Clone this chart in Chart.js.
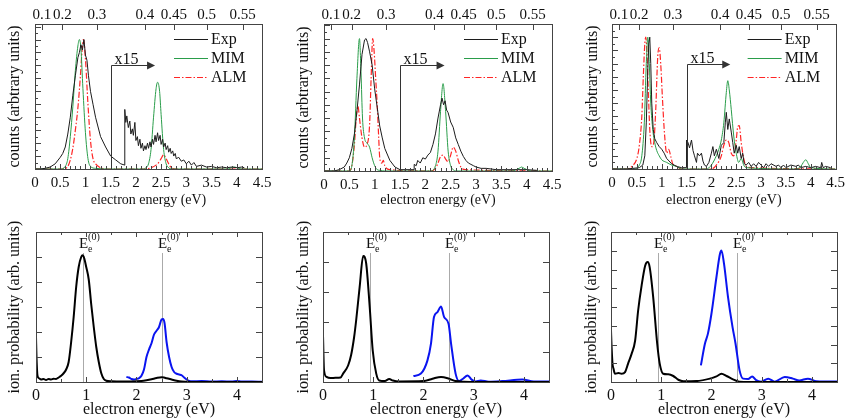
<!DOCTYPE html>
<html>
<head>
<meta charset="utf-8">
<script src="https://cdn.jsdelivr.net/npm/chart.js@4.4.1/dist/chart.umd.min.js"></script>
<style>
  html, body { margin: 0; padding: 0; background: #fff; }
  #fig { position: relative; width: 850px; height: 418px; overflow: hidden; }
  #fig canvas { position: absolute; }
</style>
</head>
<body>
<div id="fig">
  <canvas id="c1" width="290" height="210" style="left:0;top:0"></canvas>
  <canvas id="c2" width="290" height="210" style="left:290px;top:0"></canvas>
  <canvas id="c3" width="270" height="210" style="left:580px;top:0"></canvas>
  <canvas id="c4" width="290" height="208" style="left:0;top:210px"></canvas>
  <canvas id="c5" width="290" height="208" style="left:290px;top:210px"></canvas>
  <canvas id="c6" width="270" height="208" style="left:580px;top:210px"></canvas>
</div>
<script>
// ---- axis ticks / labels ----
const energyTicksTop = [0, 0.5, 1, 1.5, 2, 2.5, 3, 3.5, 4, 4.5];
const energyTicksBottom = [0, 1, 2, 3, 4];
const momentumTicks = [0.1, 0.2, 0.3, 0.4, 0.45, 0.5, 0.55]; // top axis, a.u.
const HALF_HARTREE = 13.6057;                                 // E = k^2/2 (eV)
const refEnergies = [0.93, 2.5];
const refLabels = ["(0)", "(0)'"];
const legendNames = ['Exp', 'MIM', 'ALM'];

// ---- panel 1 (top left) ----
const p1ExpE = [0,0.1,0.2,0.3,0.4,0.5,0.55,0.6,0.65,0.7,0.75,0.8,0.85,0.88,0.91,0.94,0.97,1.0,1.03,1.06,1.1,1.15,1.2,1.3,1.4,1.5,1.6,1.7,1.78,
  1.78,1.8,1.82,1.85,1.88,1.9,1.93,1.95,1.98,2.0,2.03,2.05,2.08,2.1,2.13,2.15,2.18,2.2,2.23,2.25,2.28,2.3,2.33,2.35,2.38,2.4,2.43,2.45,2.48,2.5,2.53,2.55,2.58,2.6,2.63,2.65,2.68,2.7,2.73,2.75,2.78,2.8,2.85,2.9,2.95,3.0,3.05,3.1,3.15,3.2,3.3,3.4,3.5,3.6,3.7,3.8,3.9,4.0,4.1,4.15];
const p1ExpI = [0,0,0.005,0.015,0.04,0.09,0.12,0.17,0.27,0.4,0.57,0.72,0.86,0.9,0.96,0.92,1.0,0.88,0.84,0.72,0.6,0.5,0.4,0.25,0.17,0.1,0.07,0.04,0.03,
  0.46,0.36,0.41,0.32,0.37,0.27,0.31,0.26,0.36,0.22,0.25,0.18,0.23,0.16,0.2,0.14,0.18,0.15,0.2,0.16,0.21,0.17,0.23,0.19,0.26,0.21,0.28,0.22,0.26,0.19,0.23,0.17,0.2,0.15,0.18,0.13,0.16,0.12,0.14,0.1,0.12,0.08,0.09,0.06,0.07,0.04,0.06,0.03,0.05,0.02,0.03,0.015,0.02,0.01,0.015,0.01,0.015,0.01,0.015,0.01];
const p1MimE = [0,0.5,0.6,0.65,0.7,0.75,0.8,0.85,0.88,0.91,0.95,1.0,1.05,1.1,1.2,1.5,2.15,2.2,2.25,2.3,2.35,2.4,2.43,2.47,2.5,2.55,2.6,2.65,2.7,3.8,3.95,4.1,4.5];
const p1MimI = [0,0,0.02,0.08,0.25,0.48,0.76,0.95,1.0,0.93,0.62,0.28,0.08,0.02,0.005,0,0,0.01,0.04,0.15,0.4,0.62,0.67,0.6,0.42,0.15,0.04,0.01,0,0,0.015,0,0];
const p1AlmE = [0,0.55,0.65,0.7,0.75,0.8,0.85,0.9,0.93,0.96,1.0,1.05,1.1,1.15,1.2,1.3,1.4,2.2,2.3,2.4,2.45,2.5,2.55,2.6,2.65,2.7,2.8,4.5];
const p1AlmI = [0,0,0.02,0.07,0.16,0.3,0.47,0.72,0.9,1.0,0.85,0.5,0.22,0.08,0.04,0.01,0,0,0.01,0.03,0.05,0.08,0.11,0.08,0.04,0.01,0,0];

// ---- panel 2 (top middle) ----
const p2ExpE = [0,0.2,0.3,0.4,0.45,0.5,0.55,0.6,0.65,0.7,0.75,0.8,0.83,0.86,0.9,0.95,1.0,1.05,1.1,1.15,1.2,1.3,1.4,1.5,
  1.78,1.78,1.82,1.85,1.9,1.95,2.0,2.05,2.1,2.15,2.2,2.25,2.3,2.33,2.36,2.39,2.42,2.45,2.5,2.55,2.6,2.65,2.7,2.75,2.8,2.85,2.9,2.95,3.0,3.1,3.2,3.4,3.6,3.8,4.0,4.2];
const p2ExpI = [0,0,0.01,0.03,0.06,0.1,0.17,0.28,0.45,0.65,0.88,0.99,1.0,0.97,0.9,0.8,0.62,0.48,0.34,0.25,0.17,0.08,0.03,0.01,
  0.01,0.05,0.04,0.08,0.06,0.1,0.09,0.12,0.14,0.2,0.28,0.4,0.5,0.55,0.5,0.53,0.46,0.44,0.37,0.33,0.25,0.2,0.15,0.11,0.08,0.06,0.05,0.04,0.03,0.02,0.02,0.01,0.01,0.01,0.01,0.005];
const p2MimE = [0,0.5,0.55,0.6,0.65,0.7,0.73,0.76,0.8,0.85,0.9,0.95,1.0,1.05,1.1,1.2,2.1,2.2,2.25,2.3,2.35,2.4,2.45,2.5,2.55,2.6,3.7,3.85,3.9,3.95,4.1,4.5];
const p2MimI = [0,0,0.04,0.25,0.7,1.0,0.75,0.4,0.25,0.21,0.18,0.1,0.04,0.01,0.005,0,0,0.04,0.15,0.45,0.66,0.45,0.15,0.04,0.01,0,0,0.02,0.03,0.02,0,0];
const p2AlmE = [0,0.5,0.55,0.6,0.64,0.67,0.7,0.75,0.8,0.85,0.9,0.93,0.96,0.99,1.02,1.05,1.08,1.1,1.14,1.17,1.2,1.3,2.1,2.2,2.25,2.3,2.35,2.4,2.45,2.5,2.55,2.6,2.65,2.7,2.8,4.5];
const p2AlmI = [0,0,0.04,0.2,0.42,0.49,0.4,0.25,0.18,0.2,0.35,0.7,1.0,0.9,0.7,0.5,0.25,0.1,0.06,0.08,0.04,0.01,0,0.02,0.06,0.11,0.12,0.09,0.07,0.12,0.18,0.15,0.08,0.03,0.01,0];

// ---- panel 3 (top right) ----
const p3ExpE = [0,0.3,0.55,0.62,0.66,0.69,0.72,0.74,0.76,0.78,0.8,0.83,0.86,0.9,0.95,1.0,1.05,1.1,1.2,1.3,1.4,1.5,
  1.5,1.53,1.56,1.6,1.63,1.66,1.7,1.72,1.76,1.8,1.83,1.86,1.9,1.95,2.0,2.03,2.06,2.1,2.15,2.2,2.25,2.28,2.3,2.33,2.36,2.4,2.43,2.46,2.5,2.53,2.56,2.6,2.63,2.66,2.7,2.75,2.8,2.85,2.9,2.95,3.0,3.05,3.1,3.15,3.2,3.3,3.35,3.4,3.45,3.5,3.6,3.7,3.75,3.8,3.9,4.0,4.1,4.2,4.22,4.25,4.3,4.4];
const p3ExpI = [0,0,0.01,0.03,0.1,0.35,0.75,0.95,1.0,0.8,0.5,0.3,0.23,0.2,0.17,0.15,0.12,0.08,0.04,0.02,0.01,0.01,
  0.22,0.2,0.16,0.22,0.14,0.1,0.05,0.12,0.1,0.12,0.06,0.03,0.02,0.05,0.12,0.17,0.1,0.15,0.08,0.18,0.2,0.35,0.43,0.3,0.38,0.28,0.2,0.12,0.18,0.12,0.17,0.08,0.12,0.04,0.03,0.05,0.02,0.04,0.02,0.05,0.03,0.01,0.04,0.02,0.04,0.02,0.03,0.01,0.03,0.01,0.03,0.02,0.03,0.01,0.02,0.01,0.02,0.01,0.05,0.01,0.02,0.01];
const p3MimE = [0,0.45,0.55,0.6,0.65,0.69,0.72,0.75,0.78,0.82,0.86,0.9,0.95,1.0,1.1,1.2,1.3,1.4,1.9,2.0,2.1,2.15,2.2,2.25,2.3,2.33,2.36,2.4,2.45,2.5,2.55,2.6,2.65,2.7,3.7,3.8,3.85,3.9,3.95,4.0,4.5];
const p3MimI = [0,0,0.03,0.1,0.35,0.8,1.0,0.8,0.5,0.3,0.2,0.14,0.1,0.07,0.05,0.03,0.02,0,0,0.03,0.1,0.15,0.22,0.35,0.58,0.67,0.6,0.45,0.25,0.12,0.05,0.08,0.03,0.01,0,0.02,0.05,0.07,0.04,0.01,0];
const p3AlmE = [0,0.3,0.4,0.5,0.55,0.6,0.63,0.66,0.68,0.7,0.73,0.76,0.8,0.84,0.88,0.92,0.95,0.98,1.02,1.06,1.1,1.14,1.18,1.22,1.3,1.4,2.0,2.1,2.2,2.25,2.3,2.35,2.4,2.45,2.5,2.53,2.56,2.6,2.65,2.7,2.8,4.5];
const p3AlmI = [0,0,0.02,0.08,0.18,0.4,0.7,0.95,1.0,0.9,0.6,0.3,0.17,0.2,0.45,0.85,0.92,0.8,0.5,0.25,0.12,0.15,0.1,0.04,0.02,0,0,0.03,0.1,0.18,0.22,0.2,0.12,0.1,0.22,0.32,0.33,0.2,0.08,0.02,0.01,0];

// ---- panel 4 (bottom left) ----
const p4MainE = [0,0.01,0.03,0.06,0.1,0.15,0.2,0.25,0.3,0.35,0.4,0.45,0.5,0.55,0.6,0.65,0.7,0.75,0.8,0.85,0.9,0.93,0.96,1.0,1.05,1.1,1.15,1.2,1.25,1.3,1.35,1.4,1.5,1.7,1.9,2.1,2.2,2.3,2.4,2.5,2.55,2.6,2.7,2.8,2.9,3.0,3.1,3.5,4.5];
const p4MainP = [1.8,1.0,0.25,0.15,0.1,0.12,0.08,0.12,0.1,0.13,0.12,0.18,0.25,0.35,0.5,0.8,1.6,2.6,3.8,4.6,5.0,5.07,4.95,4.6,4.1,3.1,2.2,1.4,0.8,0.35,0.12,0.05,0.03,0.02,0.02,0.04,0.07,0.11,0.16,0.19,0.18,0.15,0.1,0.05,0.02,0.01,0,0,0];
const p4HighE = [1.8,1.85,1.9,1.95,2.0,2.05,2.1,2.15,2.2,2.25,2.3,2.35,2.4,2.45,2.5,2.53,2.56,2.6,2.65,2.7,2.75,2.8,2.85,2.9,2.95,3.0,3.05,3.1,3.3,3.5,3.7,3.9,4.0,4.1,4.3,4.5];
const p4HighP = [0.2,0.18,0.12,0.1,0.12,0.15,0.25,0.5,1.0,1.3,1.55,1.9,2.05,2.2,2.5,2.52,2.35,1.6,1.0,0.6,0.4,0.33,0.3,0.27,0.18,0.1,0.04,0.03,0.04,0.02,0.03,0.02,0.04,0.02,0.02,0.01];

// ---- panel 5 (bottom middle) ----
const p5MainE = [0,0.02,0.07,0.15,0.25,0.35,0.4,0.5,0.56,0.62,0.66,0.73,0.8,0.86,0.93,0.99,1.06,1.12,1.22,1.32,1.39,1.52,2.0,2.18,2.35,2.51,2.64,2.8,3.5,4.5];
const p5MainP = [1.55,0.4,0.17,0.13,0.14,0.15,0.28,0.55,0.9,1.5,2.05,3.17,4.2,3.95,2.5,1.05,0.28,0.05,0.03,0.1,0.05,0.02,0.03,0.11,0.17,0.11,0.03,0.01,0,0];
const p5HighE = [1.8,1.95,2.08,2.15,2.21,2.28,2.35,2.41,2.5,2.55,2.64,2.71,2.78,2.88,2.96,3.04,3.14,3.3,3.57,3.97,4.2,4.5];
const p5HighP = [0.2,0.28,0.72,1.28,2.17,2.33,2.52,2.17,1.94,1.28,0.28,0.03,0.1,0.22,0.08,0.02,0.05,0.01,0.03,0.08,0.02,0.02];

// ---- panel 6 (bottom right) ----
const p6MainE = [0,0.01,0.03,0.05,0.08,0.15,0.21,0.28,0.34,0.41,0.48,0.54,0.61,0.68,0.73,0.77,0.84,0.92,0.97,1.04,1.14,1.24,1.34,1.44,1.7,1.97,2.1,2.2,2.3,2.43,2.56,3.0,4.5];
const p6MainP = [2.75,2.0,0.98,0.71,0.44,0.48,0.44,0.53,0.98,1.5,2.2,3.8,5.15,6.2,6.4,6.13,4.53,2.04,0.98,0.44,0.41,0.32,0.12,0.04,0.05,0.18,0.3,0.44,0.32,0.14,0.02,0,0];
const p6HighE = [1.79,1.87,1.93,2.0,2.1,2.17,2.2,2.25,2.33,2.42,2.48,2.56,2.63,2.73,2.81,2.89,2.99,3.13,3.26,3.46,3.62,3.75,3.92,4.09,4.5];
const p6HighP = [0.89,2.04,2.58,3.64,5.6,6.84,7.02,6.31,4.53,2.93,2.04,0.62,0.18,0.16,0.3,0.1,0.02,0.18,0.02,0.27,0.18,0.08,0.18,0.04,0.02];

// ------------------------------------------------------------------
const SERIF = "'Liberation Serif', 'DejaVu Serif', serif";
const pts = (e, v) => e.map((x, i) => ({ x, y: v[i] }));

// box with inward tick marks, drawn from the chart scales
const framePlugin = {
  id: 'frame',
  afterDatasetsDraw(chart, args, o) {
    const { ctx, chartArea: a, scales } = chart;
    const X = scales.x, Y = scales.y;
    const r = v => Math.round(v) + 0.5;
    ctx.save();
    ctx.strokeStyle = '#444';
    ctx.lineWidth = 1;
    ctx.strokeRect(r(a.left), r(a.top), Math.round(a.right - a.left), Math.round(a.bottom - a.top));
    ctx.beginPath();
    for (let v = 0; v <= 4.5001; v += o.xStep) {
      const px = r(X.getPixelForValue(v));
      const major = Math.abs(v / o.xMajor - Math.round(v / o.xMajor)) < 1e-6;
      const len = major ? 5 : 3;
      ctx.moveTo(px, a.bottom); ctx.lineTo(px, a.bottom - len);
      if (o.topTicks) { ctx.moveTo(px, a.top); ctx.lineTo(px, a.top + len); }
    }
    if (o.kTicks) {
      momentumTicks.forEach(k => {
        const px = r(X.getPixelForValue(HALF_HARTREE * k * k));
        ctx.moveTo(px, a.top); ctx.lineTo(px, a.top + 6);
      });
    }
    for (let v = 0; v <= Y.max + 1e-6; v += o.yStep) {
      const py = r(Y.getPixelForValue(v));
      const major = Math.abs(v / o.yMajor - Math.round(v / o.yMajor)) < 1e-6;
      const len = major ? 6 : 3;
      ctx.moveTo(a.left, py); ctx.lineTo(a.left + len, py);
      if (o.rightTicks) { ctx.moveTo(a.right, py); ctx.lineTo(a.right - len, py); }
    }
    ctx.stroke();
    ctx.restore();
  }
};

// legend + "x15" arrow for the count spectra
const countsPlugin = {
  id: 'counts',
  afterDatasetsDraw(chart, args, o) {
    if (!o.on) return;
    const { ctx, chartArea: a, scales } = chart;
    const X = scales.x, Y = scales.y;
    ctx.save();
    // arrow
    const x0 = Math.round(X.getPixelForValue(o.arrowFrom)) + 0.5;
    const x1 = X.getPixelForValue(o.arrowTo);
    const yTop = Math.round(Y.getPixelForValue(o.arrowLevel)) + 0.5;
    ctx.strokeStyle = '#333'; ctx.lineWidth = 1;
    ctx.beginPath();
    ctx.moveTo(x0, Y.getPixelForValue(0)); ctx.lineTo(x0, yTop); ctx.lineTo(x1 - 6, yTop);
    ctx.stroke();
    ctx.fillStyle = '#333';
    ctx.beginPath();
    ctx.moveTo(x1, yTop); ctx.lineTo(x1 - 8, yTop - 4); ctx.lineTo(x1 - 8, yTop + 4); ctx.closePath();
    ctx.fill();
    ctx.fillStyle = '#111';
    ctx.font = '16px ' + SERIF;
    ctx.textBaseline = 'alphabetic';
    ctx.textAlign = 'left';
    ctx.fillText('x15', x0 + 3, yTop - 2);
    // legend
    chart.data.datasets.forEach((ds, i) => {
      const yy = a.top + 15 + i * 19;
      ctx.strokeStyle = ds.borderColor;
      ctx.lineWidth = 1.2;
      ctx.setLineDash(ds.borderDash || []);
      ctx.beginPath();
      ctx.moveTo(a.right - 88, yy + 0.5); ctx.lineTo(a.right - 54, yy + 0.5);
      ctx.stroke();
      ctx.setLineDash([]);
      ctx.fillStyle = '#111';
      ctx.textBaseline = 'middle';
      ctx.fillText(ds.label, a.right - 51, yy + 1);
    });
    ctx.restore();
  }
};

// vertical reference energies with E_e^(0) labels
const refPlugin = {
  id: 'refs',
  beforeDatasetsDraw(chart, args, o) {
    if (!o.on) return;
    const { ctx, chartArea: a, scales } = chart;
    const X = scales.x, Y = scales.y;
    ctx.save();
    refEnergies.forEach((e, i) => {
      const px = Math.round(X.getPixelForValue(e)) + 0.5;
      ctx.strokeStyle = '#aaa'; ctx.lineWidth = 1;
      ctx.beginPath();
      ctx.moveTo(px, Y.getPixelForValue(0)); ctx.lineTo(px, a.top + 21);
      ctx.stroke();
      const base = a.top + 16;
      ctx.fillStyle = '#111';
      ctx.textBaseline = 'alphabetic';
      ctx.font = '15px ' + SERIF;
      ctx.textAlign = 'center';
      ctx.fillText('E', px, base);
      const w = ctx.measureText('E').width;
      ctx.textAlign = 'left';
      ctx.font = '10px ' + SERIF;
      ctx.fillText('e', px + w / 2, base + 4);
      ctx.fillText(refLabels[i], px + w / 2, base - 8);
    });
    ctx.restore();
  }
};

function makePanel(id, g) {
  const isTop = g.kind === 'top';
  const scales = {
    x: {
      type: 'linear', position: 'bottom', min: 0, max: 4.5,
      afterBuildTicks: s => { s.ticks = (isTop ? energyTicksTop : energyTicksBottom).map(v => ({ value: v })); },
      afterFit: s => { s.height = g.bottomH; },
      grid: { display: false, drawTicks: false }, border: { display: false },
      ticks: { autoSkip: false, maxRotation: 0, color: '#111', padding: isTop ? 5 : 4,
               font: { family: SERIF, size: isTop ? 15 : 16 }, callback: v => String(v) },
      title: { display: true, text: 'electron energy (eV)', color: '#111',
               font: { family: SERIF, size: isTop ? 14 : 16, lineHeight: 1 },
               padding: { top: 0, bottom: isTop ? 3 : 0 } }
    },
    y: {
      type: 'linear', min: 0, max: g.yMax,
      afterFit: s => { s.width = g.leftW; },
      grid: { display: false, drawTicks: false }, border: { display: false },
      ticks: { display: false },
      title: { display: true, text: isTop ? 'counts (arbtrary units)' : 'ion. probability (arb. units)',
               color: '#111', font: { family: SERIF, size: 16, lineHeight: 1 },
               padding: { top: g.titleX, bottom: 0 } }
    }
  };
  if (isTop) {
    scales.x2 = {
      type: 'linear', position: 'top', min: 0, max: 4.5,
      afterBuildTicks: s => { s.ticks = momentumTicks.map(k => ({ value: HALF_HARTREE * k * k })); },
      afterFit: s => { s.height = g.topH; },
      grid: { display: false, drawTicks: false }, border: { display: false },
      ticks: { autoSkip: false, maxRotation: 0, color: '#111', padding: 0,
               font: { family: SERIF, size: 15 }, callback: (v, i) => String(momentumTicks[i]) }
    };
  }
  new Chart(document.getElementById(id), {
    type: 'line',
    data: { datasets: g.datasets },
    options: {
      responsive: false, animation: false,
      layout: { padding: { left: 0, right: g.rightPad, top: isTop ? 0 : g.topH, bottom: 0 } },
      elements: { point: { radius: 0 } },
      plugins: {
        legend: { display: false }, tooltip: { enabled: false },
        frame: isTop ? { xStep: 0.1, xMajor: 0.5, yStep: 0.05, yMajor: 0.1, kTicks: true }
                     : { xStep: 0.5, xMajor: 1, yStep: 1, yMajor: 1, topTicks: true, rightTicks: true },
        counts: { on: isTop, arrowFrom: 1.5, arrowTo: 2.38, arrowLevel: 0.8 },
        refs: { on: !isTop }
      },
      scales
    },
    plugins: [refPlugin, framePlugin, countsPlugin]
  });
}

const EXP_COLOR = '#1c1c1c', MIM_COLOR = '#2a9d4a', ALM_COLOR = '#ff2626';
function countSets(expE, expI, mimE, mimI, almE, almI) {
  return [
    { label: legendNames[0], data: pts(expE, expI), borderColor: EXP_COLOR, borderWidth: 1, tension: 0 },
    { label: legendNames[1], data: pts(mimE, mimI), borderColor: MIM_COLOR, borderWidth: 1, cubicInterpolationMode: 'monotone' },
    { label: legendNames[2], data: pts(almE, almI), borderColor: ALM_COLOR, borderWidth: 1.2, borderDash: [6, 2, 1.5, 2], cubicInterpolationMode: 'monotone' }
  ];
}
function probSets(mainE, mainP, highE, highP) {
  return [
    { label: 'main', data: pts(mainE, mainP), borderColor: '#000', borderWidth: 2, cubicInterpolationMode: 'monotone' },
    { label: 'x15', data: pts(highE, highP), borderColor: '#0a14f0', borderWidth: 2, cubicInterpolationMode: 'monotone' }
  ];
}

makePanel('c1', { kind: 'top', leftW: 35, rightPad: 28, topH: 24, bottomH: 41, yMax: 1.12, titleX: 7,
  datasets: countSets(p1ExpE, p1ExpI, p1MimE, p1MimI, p1AlmE, p1AlmI) });
makePanel('c2', { kind: 'top', leftW: 34, rightPad: 28, topH: 24, bottomH: 39, yMax: 1.11, titleX: 6,
  datasets: countSets(p2ExpE, p2ExpI, p2MimE, p2MimI, p2AlmE, p2AlmI) });
makePanel('c3', { kind: 'top', leftW: 32, rightPad: 11, topH: 24, bottomH: 41, yMax: 1.1, titleX: 5,
  datasets: countSets(p3ExpE, p3ExpI, p3MimE, p3MimI, p3AlmE, p3AlmI) });
makePanel('c4', { kind: 'bottom', leftW: 36, rightPad: 28, topH: 22, bottomH: 36, yMax: 6, titleX: 7,
  datasets: probSets(p4MainE, p4MainP, p4HighE, p4HighP) });
makePanel('c5', { kind: 'bottom', leftW: 33, rightPad: 31, topH: 22, bottomH: 36, yMax: 5, titleX: 6,
  datasets: probSets(p5MainE, p5MainP, p5HighE, p5HighP) });
makePanel('c6', { kind: 'bottom', leftW: 31, rightPad: 13, topH: 22, bottomH: 36, yMax: 8, titleX: 4,
  datasets: probSets(p6MainE, p6MainP, p6HighE, p6HighP) });
</script>
</body>
</html>
